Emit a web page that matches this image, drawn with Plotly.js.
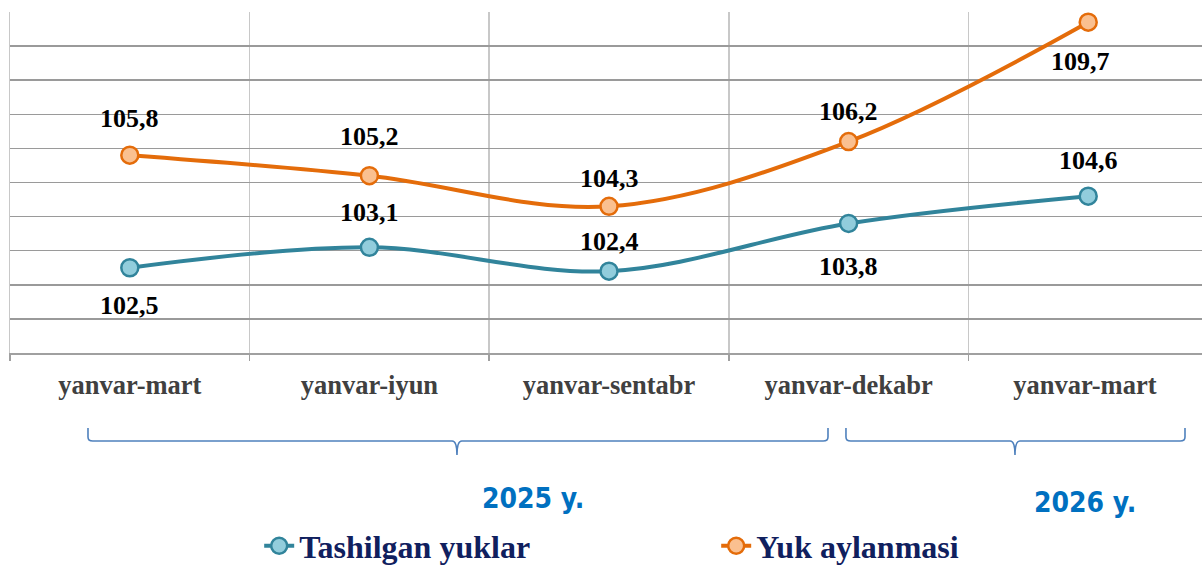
<!DOCTYPE html>
<html>
<head>
<meta charset="utf-8">
<script src="https://cdn.plot.ly/plotly-3.0.1.min.js"></script>
<style>
html,body{margin:0;padding:0;overflow:hidden;background:#fff;}
#chart{width:1208px;height:567px;}
</style>
</head>
<body>
<div id="chart"></div>
<script>
const categories = ["yanvar-mart", "yanvar-iyun", "yanvar-sentabr", "yanvar-dekabr", "yanvar-mart "];
const tashilganYuklar = [102.5, 103.1, 102.4, 103.8, 104.6];
const yukAylanmasi = [105.8, 105.2, 104.3, 106.2, 109.7];
const seriesNames = ["Tashilgan yuklar", "Yuk aylanmasi"];
const yearLabels = ["2025 y.", "2026 y."];

// label placement (pixels; positive = above the point)
const tashilganLabelShift = [-38, 35, 30, -43, 36];
const yukLabelShift = [37, 39, 28, 30, -39];
const yukLabelXShift = [0, 0, 0, 0, -8];

const serif = "Liberation Serif, Times New Roman, serif";
const fmt = v => v.toFixed(1).replace(".", ",");

const teal = "#31849b", tealFill = "#92cddc";
const orange = "#e46c0a", orangeFill = "#fac090";

const traces = [
  {
    x: categories, y: tashilganYuklar, name: seriesNames[0],
    type: "scatter", mode: "lines+markers",
    line: {color: teal, width: 4, shape: "spline", smoothing: 1},
    marker: {size: 17, color: tealFill, line: {color: teal, width: 2.5}},
    hoverinfo: "skip"
  },
  {
    x: categories, y: yukAylanmasi, name: seriesNames[1],
    type: "scatter", mode: "lines+markers",
    line: {color: orange, width: 4, shape: "spline", smoothing: 1},
    marker: {size: 17, color: orangeFill, line: {color: orange, width: 2.5}},
    hoverinfo: "skip"
  }
];

const labelFont = {family: serif, size: 26, color: "#000", weight: 700};
const annotations = [];
tashilganYuklar.forEach((v, i) => annotations.push({
  x: categories[i], y: v, xref: "x", yref: "y", text: fmt(v), showarrow: false,
  yshift: tashilganLabelShift[i], font: labelFont
}));
yukAylanmasi.forEach((v, i) => annotations.push({
  x: categories[i], y: v, xref: "x", yref: "y", text: fmt(v), showarrow: false,
  yshift: yukLabelShift[i], xshift: yukLabelXShift[i], font: labelFont
}));
const yearFont = {family: "Liberation Sans Narrow, DejaVu Sans Condensed, sans-serif", size: 28, color: "#0070c0", weight: 700};
annotations.push({x: 0.4366, y: -0.428, xref: "paper", yref: "paper", xanchor: "center", yanchor: "middle", text: yearLabels[0], showarrow: false, font: yearFont});
annotations.push({x: 0.8973, y: -0.437, xref: "paper", yref: "paper", xanchor: "center", yanchor: "middle", text: yearLabels[1], showarrow: false, font: yearFont});

function brace(x0, xt, x1) {
  const yt = -0.220, yh = -0.258, yb = -0.299, d = 0.004, dy = 0.012;
  return {
    type: "path", xref: "paper", yref: "paper",
    path: `M ${x0},${yt} L ${x0},${yh+dy} Q ${x0},${yh} ${x0+d},${yh} L ${xt-d},${yh} Q ${xt},${yh} ${xt},${yb} Q ${xt},${yh} ${xt+d},${yh} L ${x1-d},${yh} Q ${x1},${yh} ${x1},${yh+dy} L ${x1},${yt}`,
    line: {color: "#4f81bd", width: 1.6}
  };
}

const layout = {
  width: 1208, height: 567,
  margin: {l: 10, r: 0, t: 12, b: 214, autoexpand: false},
  paper_bgcolor: "#fff", plot_bgcolor: "#fff",
  showlegend: true,
  legend: {
    orientation: "h", x: 0.208, y: -0.485, xanchor: "left", yanchor: "top",
    entrywidth: 412, entrywidthmode: "pixels",
    font: {family: serif, size: 32, color: "#10205e", weight: 700},
    itemclick: false, itemdoubleclick: false
  },
  xaxis: {
    type: "category", tickson: "boundaries",
    showgrid: true, gridcolor: "#c8c8c8", gridwidth: 1.5,
    showline: true, linecolor: "#a0a0a0", linewidth: 1.5,
    ticks: "outside", ticklen: 6, tickcolor: "#a0a0a0", tickwidth: 1.5,
    ticklabelstandoff: 8,
    tickfont: {family: serif, size: 26.5, color: "#404040", weight: 700},
    range: [-0.5, 4.5], fixedrange: true
  },
  yaxis: {
    range: [100, 110], dtick: 1, tick0: 100,
    showgrid: true, gridcolor: "#9a9a9a", gridwidth: 1.5,
    showticklabels: false, zeroline: false,
    showline: true, linecolor: "#c8c8c8", linewidth: 1.5,
    fixedrange: true
  },
  annotations: annotations,
  shapes: [brace(0.0651, 0.3731, 0.6828), brace(0.6978, 0.8389, 0.9808)]
};

Plotly.newPlot("chart", traces, layout, {displayModeBar: false, staticPlot: true});
</script>
</body>
</html>
